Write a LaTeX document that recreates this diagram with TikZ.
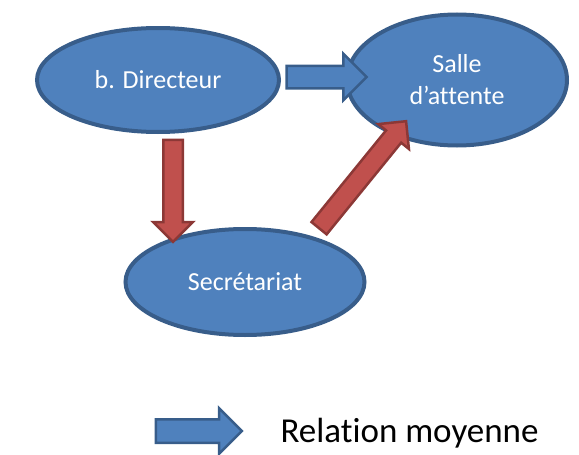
\documentclass[tikz,border=0pt]{standalone}
\usepackage{fontspec}
\setmainfont{Carlito}[Ligatures={TeX,NoCommon}]
\usetikzlibrary{shapes.geometric,shapes.arrows,calc}
\definecolor{cnode}{RGB}{79,129,189}
\definecolor{cnodeb}{RGB}{56,93,138}
\definecolor{crel}{RGB}{192,80,77}
\definecolor{crelb}{RGB}{140,56,54}

% block arrow from #2 to #3, style #1
\newcommand{\blockarrow}[3]{%
  \path let \p1=(#2), \p2=(#3), \n1={atan2(\y2-\y1,\x2-\x1)}, \n2={veclen(\x2-\x1,\y2-\y1)} in
    node[#1, minimum height=\n2, rotate=\n1] at ($(#2)!0.5!(#3)$) {};}

\begin{document}
\begin{tikzpicture}[x=1pt, y=-1pt,
  font=\fontsize{26}{32}\selectfont,
  place/.style={ellipse, draw=cnodeb, fill=cnode, line width=4pt, text=white, align=center, inner sep=0pt},
  relarrow/.style={single arrow, draw=crelb, fill=crel, line width=2.5pt, inner sep=8.5pt,
    single arrow head indent=0pt, single arrow head extend=10},
  medarrow/.style={relarrow, draw=cnodeb, fill=cnode, inner sep=10pt, single arrow head extend=12},
]
\useasboundingbox (0,0) rectangle (579,455);

% --- places ---
\node[place, minimum width=242, minimum height=104] (dir) at (158,80) {b. Directeur};
\node[place, minimum width=220, minimum height=131] (sal) at (457,80) {Salle\\d’attente};
\node[place, minimum width=239, minimum height=106] (sec) at (245,282) {Secrétariat};

% --- relations ---
\coordinate (dirE) at ($(dir.center)+(123,-3)$);
\coordinate (salW) at ($(sal.center)+(-96,-3)$);
\coordinate (dirS) at ($(dir.center)+(15,55)$);
\coordinate (secN) at ($(sec.center)+(-72,-45)$);
\coordinate (secE) at ($(sec.center)+(71,-50)$);
\coordinate (salS) at ($(sal.center)+(-54,45)$);
\blockarrow{medarrow}{dirE}{salW}
\blockarrow{relarrow}{dirS}{secN}
\blockarrow{relarrow}{secE}{salS}

% --- legend ---
\coordinate (lgA) at (150,431);
\coordinate (lgB) at (236,431);
\blockarrow{medarrow, inner sep=10.5pt, single arrow head extend=11}{lgA}{lgB}
\node[anchor=base west, font=\fontsize{35}{40}\selectfont] (lgtext) at (277,442) {Relation moyenne};
\end{tikzpicture}
\end{document}
